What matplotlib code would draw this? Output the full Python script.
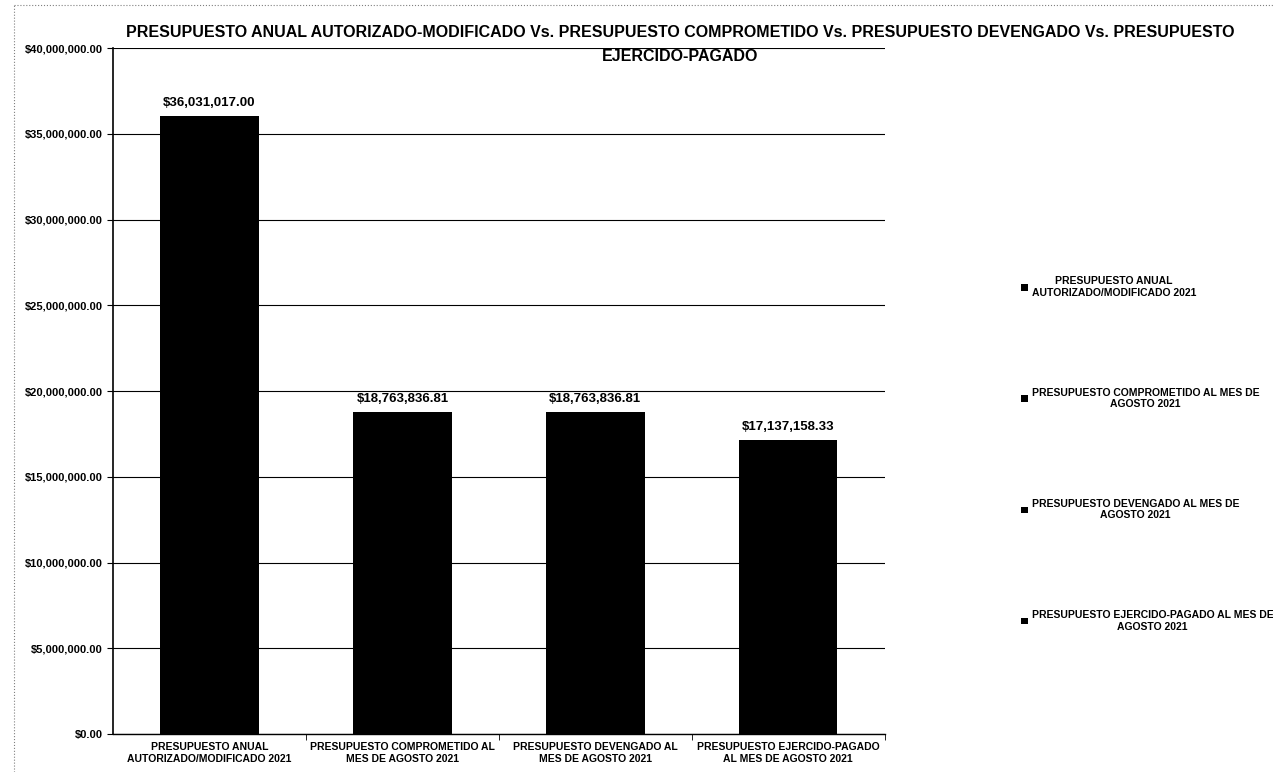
import matplotlib.pyplot as plt
from matplotlib.ticker import FuncFormatter, FixedLocator
import numpy as np

plt.rcParams['font.family'] = ['Liberation Sans', 'DejaVu Sans']
plt.rcParams['font.weight'] = 'bold'

categorias = [
    "PRESUPUESTO ANUAL\nAUTORIZADO/MODIFICADO 2021",
    "PRESUPUESTO COMPROMETIDO AL\nMES DE AGOSTO 2021",
    "PRESUPUESTO DEVENGADO AL\nMES DE AGOSTO 2021",
    "PRESUPUESTO EJERCIDO-PAGADO\nAL MES DE AGOSTO 2021",
]
leyenda = [
    "PRESUPUESTO ANUAL\nAUTORIZADO/MODIFICADO 2021",
    "PRESUPUESTO COMPROMETIDO AL MES DE\nAGOSTO 2021",
    "PRESUPUESTO DEVENGADO AL MES DE\nAGOSTO 2021",
    "PRESUPUESTO EJERCIDO-PAGADO AL MES DE\nAGOSTO 2021",
]
montos = [36031017.00, 18763836.81, 18763836.81, 17137158.33]

titulo = ("PRESUPUESTO ANUAL AUTORIZADO-MODIFICADO Vs. PRESUPUESTO COMPROMETIDO Vs. "
          "PRESUPUESTO DEVENGADO Vs. PRESUPUESTO\nEJERCIDO-PAGADO")

fig = plt.figure(figsize=(12.73, 7.72), dpi=100)
ax = fig.add_axes([0.0888, 0.0492, 0.6062, 0.8886])

x = np.arange(len(montos))
for i, (m, lab) in enumerate(zip(montos, leyenda)):
    ax.bar(x[i], m, width=0.51, color='black', label=lab, zorder=3)
    ax.text(x[i], m + 400000, "${:,.2f}".format(m), ha='center', va='bottom',
            fontsize=9.5, fontweight='bold')

ax.set_xlim(-0.5, 3.5)
ax.set_ylim(0, 40000000)
ax.set_yticks(np.arange(0, 40000001, 5000000))
ax.yaxis.set_major_formatter(FuncFormatter(lambda v, p: "${:,.2f}".format(v)))
ax.set_xticks(x)
ax.set_xticklabels(categorias, fontsize=7.5, fontweight='bold')
ax.xaxis.set_minor_locator(FixedLocator([0.5, 1.5, 2.5, 3.5]))
ax.tick_params(axis='x', which='major', length=0, pad=6)
ax.tick_params(axis='x', which='minor', length=4, color='black')
ax.tick_params(axis='y', labelsize=8, length=4, color='black')
for t in ax.get_yticklabels():
    t.set_fontweight('bold')

ax.grid(axis='y', color='black', linewidth=0.8, zorder=0)
ax.spines['top'].set_visible(False)
ax.spines['right'].set_visible(False)
ax.spines['left'].set_linewidth(1.2)
ax.spines['bottom'].set_linewidth(1.0)

fig.text(0.534, 0.968, titulo, ha='center', va='top', fontsize=11.5,
         fontweight='bold', linespacing=1.8, zorder=5)

leg = fig.legend(loc='center left', bbox_to_anchor=(0.795, 0.412), frameon=False,
                 fontsize=7.5, labelspacing=8.6, handlelength=0.6, handleheight=0.6,
                 handletextpad=0.4)
for t in leg.get_texts():
    t.set_multialignment('center')
    t.set_fontweight('bold')

# borde punteado de la imagen
fig.add_artist(plt.Line2D([0.011, 0.011], [0.0, 0.995], color='gray', lw=0.8,
                          linestyle=':', transform=fig.transFigure))
fig.add_artist(plt.Line2D([0.011, 1.0], [0.993, 0.993], color='gray', lw=0.8,
                          linestyle=':', transform=fig.transFigure))

fig.savefig("out.png", dpi=100)
